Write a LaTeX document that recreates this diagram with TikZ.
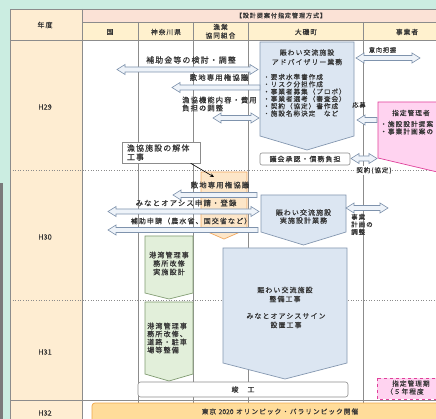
\documentclass[tikz,border=0pt]{standalone}
\usepackage{fontspec}
\setmainfont{Noto Sans CJK JP}
\newfontfamily\jp{Noto Sans CJK JP}[LetterSpace=15,FakeBold=0.3]
\newfontfamily\jpn{Noto Sans CJK JP}[FakeBold=0.3]
\usetikzlibrary{arrows.meta}
\definecolor{mint}{HTML}{CBEDE1}
\definecolor{darkstrip}{HTML}{7A7A7A}
\definecolor{hdrpink}{HTML}{FBE2D6}
\definecolor{hdryel}{HTML}{FFF1CE}
\definecolor{yearcol}{HTML}{FEEDD2}
\definecolor{gridc}{HTML}{8C8C8C}
\definecolor{txt}{HTML}{333333}
\definecolor{arrf}{HTML}{EEF3F9}
\definecolor{arrb}{HTML}{7F93AD}
\definecolor{bluef}{HTML}{DCE6F2}
\definecolor{blueb}{HTML}{8497B0}
\definecolor{greenf}{HTML}{E2EFDA}
\definecolor{greenb}{HTML}{7F9A70}
\definecolor{orangef}{HTML}{FDE6C8}
\definecolor{orangeb}{HTML}{F0A860}
\definecolor{pinkf}{HTML}{FFD3F0}
\definecolor{pinkb}{HTML}{E0409A}
\definecolor{barf}{HTML}{FFDC9A}
\definecolor{barb}{HTML}{F0A84A}
\newcommand\jfs[1]{\fontsize{#1}{#1}\selectfont}
\newcommand\blkdbl[3]{\draw[blk] (#1,#3) -- ++(8,-5) -- ++(0,2.5) -- ({#2-8},{#3-2.5}) -- ++(0,-2.5) -- (#2,#3) -- ++(-8,5) -- ++(0,-2.5) -- ({#1+8},{#3+2.5}) -- ++(0,2.5) -- cycle;}
\newcommand\blkleft[3]{\draw[blk] (#1,#3) -- ++(8,-5) -- ++(0,2.5) -- (#2,{#3-2.5}) -- ++(0,5) -- ({#1+8},{#3+2.5}) -- ++(0,2.5) -- cycle;}
\newcommand\pent[6]{\draw[#6] (#1,#2) -- (#3,#2) -- (#3,#4) -- ({(#1+#3)/2},#5) -- (#1,#4) -- cycle;}
\begin{document}
\begin{tikzpicture}[x=1pt,y=-1pt,
  lbl/.style={inner sep=0pt, text=txt, font={\jp\jfs{7}}},
  gridln/.style={draw=gridc, line width=0.6pt},
  blk/.style={draw=arrb, fill=arrf, line width=0.6pt, line join=miter},
  bluebox/.style={draw=blueb, fill=bluef, line width=0.7pt},
  greenbox/.style={draw=greenb, fill=greenf, line width=0.7pt},
  orangebox/.style={draw=orangeb, fill=orangef, line width=0.7pt},
  pinkbox/.style={draw=pinkb, fill=pinkf, line width=0.7pt},
  plainbox/.style={draw=gridc, fill=white, line width=0.6pt, inner sep=0pt},
  pointer/.style={draw=black, line width=0.6pt, -{Stealth[length=4pt,width=3.5pt]}}
]
\useasboundingbox (0,0) rectangle (436,419);
% background and table fills
\fill[mint] (0,0) rectangle (436,419);
\fill[darkstrip] (0,183) rectangle (3,419);
\fill[white] (10,40) rectangle (440,425);
\fill[yearcol] (10,9) rectangle (82,425);
\fill[hdrpink] (82,9) rectangle (440,22);
\fill[hdryel] (82,22) rectangle (440,40);
% grid
\draw[gridln] (10,425) -- (10,9) -- (440,9);
\draw[gridln] (82,22) -- (440,22);
\draw[gridln] (10,40) -- (440,40);
\draw[gridln] (82,9) -- (82,425);
\foreach \x in {138,193,248,363} \draw[gridln] (\x,22) -- (\x,425);
\draw[gridln, dotted] (10,170.5) -- (440,170.5);
\draw[gridln, dotted] (10,300) -- (440,300);
\draw[gridln] (10,400) -- (440,400);
% headers
\node[lbl, font={\jp\jfs{6.1}}] (hdr) at (281,15.5) {【設計提案付指定管理方式】};
\node[lbl] (nendo) at (45,25) {年度};
\node[lbl, font={\jp\jfs{6.7}}] (kuni) at (110,32) {国};
\node[lbl, font={\jp\jfs{6.7}}] (kana) at (166,32) {神奈川県};
\node[lbl, font={\jp\jfs{6.7}}] (gyo1) at (220.5,27) {漁業};
\node[lbl, font={\jp\jfs{6.7}}] (gyo2) at (220.5,35.5) {協同組合};
\node[lbl, font={\jp\jfs{6.7}}] (oiso) at (306,32) {大磯町};
\node[lbl, font={\jp\jfs{6.7}}] (jig) at (407,32) {事業者};
\node[lbl, font={\jpn\jfs{7.3}}] (y29) at (45,107) {H29};
\node[lbl, font={\jpn\jfs{7.3}}] (y30) at (45,237) {H30};
\node[lbl, font={\jpn\jfs{7.3}}] (y31) at (45,352) {H31};
\node[lbl, font={\jpn\jfs{7.3}}] (y32) at (45,413) {H32};
% ---------- H29
\pent{260}{42}{354}{136}{150}{bluebox}
\node[lbl, font={\jp\jfs{6.9}}] (a1) at (307,52.5) {賑わい交流施設};
\node[lbl, font={\jp\jfs{6.9}}] (a2) at (307,62) {アドバイザリー業務};
\foreach \t [count=\n] in {・要求水準書作成,・リスク分担作成,・事業者募集（プロポ）,・事業者選考（審査会）,・契約（協定）書作成,・施設名称決定　など}
  \node[lbl, font={\jp\jfs{6.6}}, anchor=west] (b\n) at (263,{77+7.3*(\n-1)}) {\t};
\node[lbl, font={\jp\jfs{7.9}}] (t1) at (191,60) {補助金等の検討・調整};
\blkdbl{117}{258}{69.5}
\node[lbl, font={\jp\jfs{7.4}}] (t2) at (219,77.5) {敷地専用権協議};
\blkleft{172}{260}{87.5}
\node[lbl, font={\jp\jfs{7.3}}, anchor=west] (t3a) at (182,100) {漁協機能内容・費用};
\node[lbl, font={\jp\jfs{7.3}}, anchor=west] (t3b) at (182,108) {負担の調整};
\blkdbl{213}{259}{118}
\node[lbl, font={\jp\jfs{6.1}}] (iko) at (382.5,50) {意向把握};
\blkdbl{356}{420}{58}
\pent{378}{102}{522}{158}{175}{pinkbox}
\node[lbl, font={\jp\jfs{6.1}}] (obo) at (359,105) {応募};
\blkleft{357}{377}{120}
\node[lbl, font={\jp\jfs{6.7}}, anchor=west] (p1) at (392,113) {指定管理者};
\node[lbl, font={\jp\jfs{6.7}}, anchor=west] (p2) at (380,124) {・施設設計提案};
\node[lbl, font={\jp\jfs{6.7}}, anchor=west] (p3) at (380,131.5) {・事業計画案の};
\node[plainbox, rounded corners=2pt, minimum width=90pt, minimum height=12pt, font={\jp\jfs{6.95}}, text=txt] (gikai) at (305,159) {議会承認・債務負担};
\blkdbl{351}{377}{158.5}
\node[lbl, font={\jp\jfs{6.5}}, fill=white, inner sep=0.8pt] (keiyaku) at (374,170.5) {契約(協定)};
\node[plainbox, minimum width=78pt, minimum height=21pt, text width=68pt, align=left, font={\jp\fontsize{7.9}{9}\selectfont}, text=txt] (k1) at (161,152.5) {漁協施設の解体\\工事};
% ---------- H30
\pent{201}{172}{247}{229}{239}{orangebox}
\coordinate (ktarget) at (214,177);
\draw[pointer] (k1.-20) -- (ktarget);
\node[lbl, font={\jp\jfs{7.4}}] (t4) at (220,185) {敷地専用権協議};
\blkleft{173}{257}{195}
\node[lbl, font={\jp\jfs{7.4}}] (t5) at (186,203) {みなとオアシス申請・登録};
\blkdbl{108}{259}{211.5}
\node[lbl, font={\jp\jfs{7.05}}] (t6) at (191,221) {補助申請（農水省、国交省など）};
\blkleft{108}{258}{230}
\pent{261}{195}{346}{232}{245}{bluebox}
\node[lbl] (c1) at (303.5,212.5) {賑わい交流施設};
\node[lbl] (c2) at (303.5,220.5) {実施設計業務};
\blkdbl{346}{388}{208}
\node[lbl, font={\jp\jfs{6.5}}, anchor=west] (j1) at (351,217) {事業};
\node[lbl, font={\jp\jfs{6.5}}, anchor=west] (j2) at (351,224.5) {計画の};
\node[lbl, font={\jp\jfs{6.5}}, anchor=west] (j3) at (351,232) {調整};
\pent{145}{236}{193}{293}{299}{greenbox}
\node[lbl, font={\jp\jfs{7.1}}] (g1) at (169,255) {港湾管理事};
\node[lbl, font={\jp\jfs{7.1}}] (g2) at (169,263.5) {務所改修};
\node[lbl, font={\jp\jfs{7.1}}] (g3) at (169,272) {実施設計};
% ---------- H30-H31 construction
\pent{223}{248}{347}{363}{379}{bluebox}
\node[lbl] (d1) at (285,290) {賑わい交流施設};
\node[lbl] (d2) at (285,299) {整備工事};
\node[lbl] (d3) at (286,316) {みなとオアシスサイン};
\node[lbl] (d4) at (286,325) {設置工事};
\pent{145}{302}{193}{374}{381}{greenbox}
\node[lbl, font={\jp\jfs{7.1}}, anchor=west] (h1) at (147,326) {港湾管理事};
\node[lbl, font={\jp\jfs{7.1}}, anchor=west] (h2) at (147,334) {務所改修、};
\node[lbl, font={\jp\jfs{7.1}}, anchor=west] (h3) at (147,342) {道路・駐車};
\node[lbl, font={\jp\jfs{7.1}}, anchor=west] (h4) at (147,350) {場等整備};
\node[plainbox, rounded corners=2.5pt, minimum width=210pt, minimum height=15pt, font={\jp\jfs{6.95}}, text=txt] (shunko) at (243,389.5) {竣　工};
\draw[pinkbox, dashed] (377,378) rectangle (445,399);
\node[lbl, font={\jp\jfs{6.7}}, anchor=west] (q1) at (392,383.5) {指定管理期};
\node[lbl, font={\jp\jfs{6.7}}, anchor=west] (q2) at (386,391.5) {（５年程度};
% ---------- H32
\draw[draw=barb, fill=barf, line width=0.7pt, rounded corners=3pt] (92,403) rectangle (470,430);
\node[lbl, font={\jp\jfs{6.7}}] (olym) at (280,411.5) {東京 {\jpn 2020} オリンピック・パラリンピック開催};
\end{tikzpicture}
\end{document}
